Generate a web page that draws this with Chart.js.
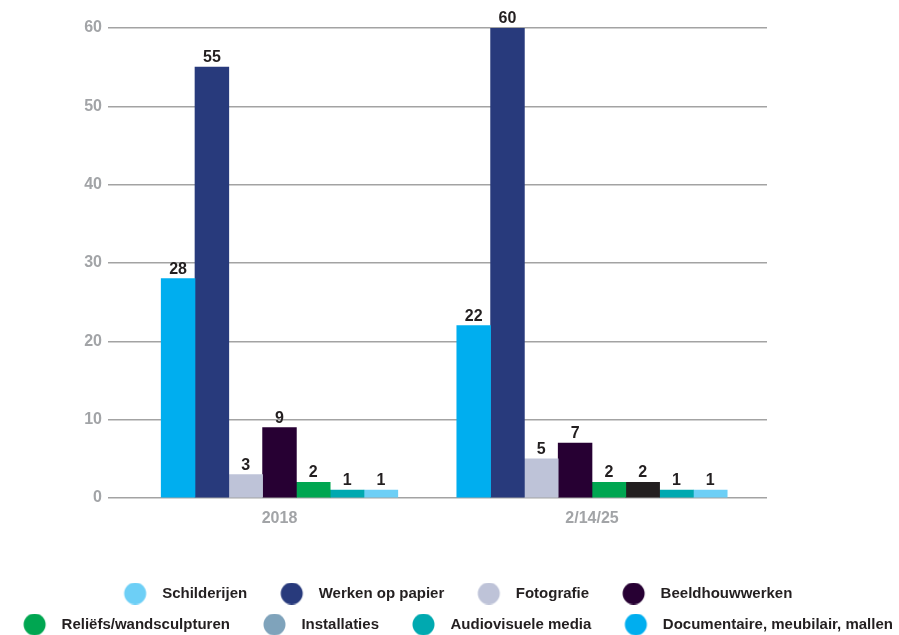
<!DOCTYPE html>
<html><head><meta charset="utf-8">
<script src="https://cdn.jsdelivr.net/npm/chart.js@4.4.1/dist/chart.umd.min.js"></script>
<style>html,body{margin:0;padding:0;background:#fff}#wrap{width:899px;height:635px;position:relative}</style>
</head><body><div id="wrap"><canvas id="c"></canvas></div>
<script>
const categories = ['2018', '2/14/25'];
const seriesNames = ['Schilderijen', 'Werken op papier', 'Fotografie', 'Beeldhouwwerken',
  'Reliëfs/wandsculpturen', 'Installaties', 'Audiovisuele media', 'Documentaire, meubilair, mallen'];
const schilderijen = [28, 22];
const werkenOpPapier = [55, 60];
const fotografie = [3, 5];
const beeldhouwwerken = [9, 7];
const reliefs = [2, 2];
const installaties = [null, 2];
const audiovisueleMedia = [1, 1];
const documentaire = [1, 1];
const yTicks = [0, 10, 20, 30, 40, 50, 60];

const barColors = ['#00aeef', '#283a7c', '#bec3d8', '#270033', '#00a651', '#231f20', '#00a9b0', '#6dcff6'];
const legendColors = ['#6dcff6', '#283a7c', '#bec3d8', '#270033', '#00a651', '#7fa3bb', '#00a9b0', '#00aeef'];
const seriesValues = [schilderijen, werkenOpPapier, fotografie, beeldhouwwerken, reliefs, installaties, audiovisueleMedia, documentaire];

const FONT = "'Liberation Sans', Arial, sans-serif";

function dot(color) {
  const c = document.createElement('canvas');
  c.width = 48; c.height = 22;
  const x = c.getContext('2d');
  x.fillStyle = color;
  x.beginPath(); x.arc(28.5, 11, 11, 0, Math.PI * 2); x.fill();
  return c;
}

const valueLabels = {
  id: 'valueLabels',
  afterDatasetsDraw(chart) {
    const ctx = chart.ctx;
    ctx.save();
    ctx.font = 'bold 16px ' + FONT;
    ctx.fillStyle = '#231f20';
    ctx.textAlign = 'center';
    ctx.textBaseline = 'alphabetic';
    chart.data.datasets.forEach((ds, i) => {
      const meta = chart.getDatasetMeta(i);
      meta.data.forEach((el, j) => {
        const v = ds.data[j];
        if (v === null || v === undefined) return;
        ctx.fillText(String(v), el.x, el.y - 5);
      });
    });
    ctx.restore();
  }
};

new Chart(document.getElementById('c'), {
  type: 'bar',
  data: {
    labels: categories,
    datasets: seriesNames.map((n, i) => ({
      label: n,
      data: seriesValues[i],
      backgroundColor: barColors[i],
      borderWidth: 0
    }))
  },
  options: {
    responsive: true,
    maintainAspectRatio: false,
    animation: false,
    layout: { padding: { top: 28, left: -20, right: -20, bottom: -7 } },
    datasets: { bar: { barThickness: 33.8, skipNull: true } },
    scales: {
      x: {
        grid: { display: false },
        border: { display: false },
        ticks: { color: '#a2a4a7', font: { family: FONT, size: 16, weight: 'bold' }, padding: 3 },
        afterBuildTicks(s) { s._startValue = -0.5488; s._valueRange = 2.1088; },
        afterFit(s) { s.height = 72; }
      },
      y: {
        min: 0, max: 60,
        afterBuildTicks(s) { s.ticks = yTicks.map(v => ({ value: v })); },
        grid: { color: '#a3a3a3', lineWidth: 1.5, drawTicks: false },
        border: { display: false },
        ticks: { color: '#a2a4a7', font: { family: FONT, size: 16, weight: 'bold' }, padding: 6 },
        afterFit(s) { s.width = 128; }
      },
      yr: {
        type: 'linear', position: 'right',
        grid: { display: false }, border: { display: false },
        ticks: { display: false },
        afterFit(s) { s.width = 152; }
      }
    },
    plugins: {
      tooltip: { enabled: false },
      legend: {
        position: 'bottom',
        labels: {
          usePointStyle: true,
          pointStyleWidth: 48,
          padding: 16,
          color: '#231f20',
          font: { family: FONT, size: 15, weight: 'bold' },
          generateLabels() {
            return seriesNames.map((n, i) => ({
              text: n, fillStyle: legendColors[i], strokeStyle: legendColors[i],
              lineWidth: 0, pointStyle: dot(legendColors[i]), hidden: false, datasetIndex: i,
              fontColor: '#231f20'
            }));
          }
        }
      }
    }
  },
  plugins: [valueLabels]
});
</script></body></html>
